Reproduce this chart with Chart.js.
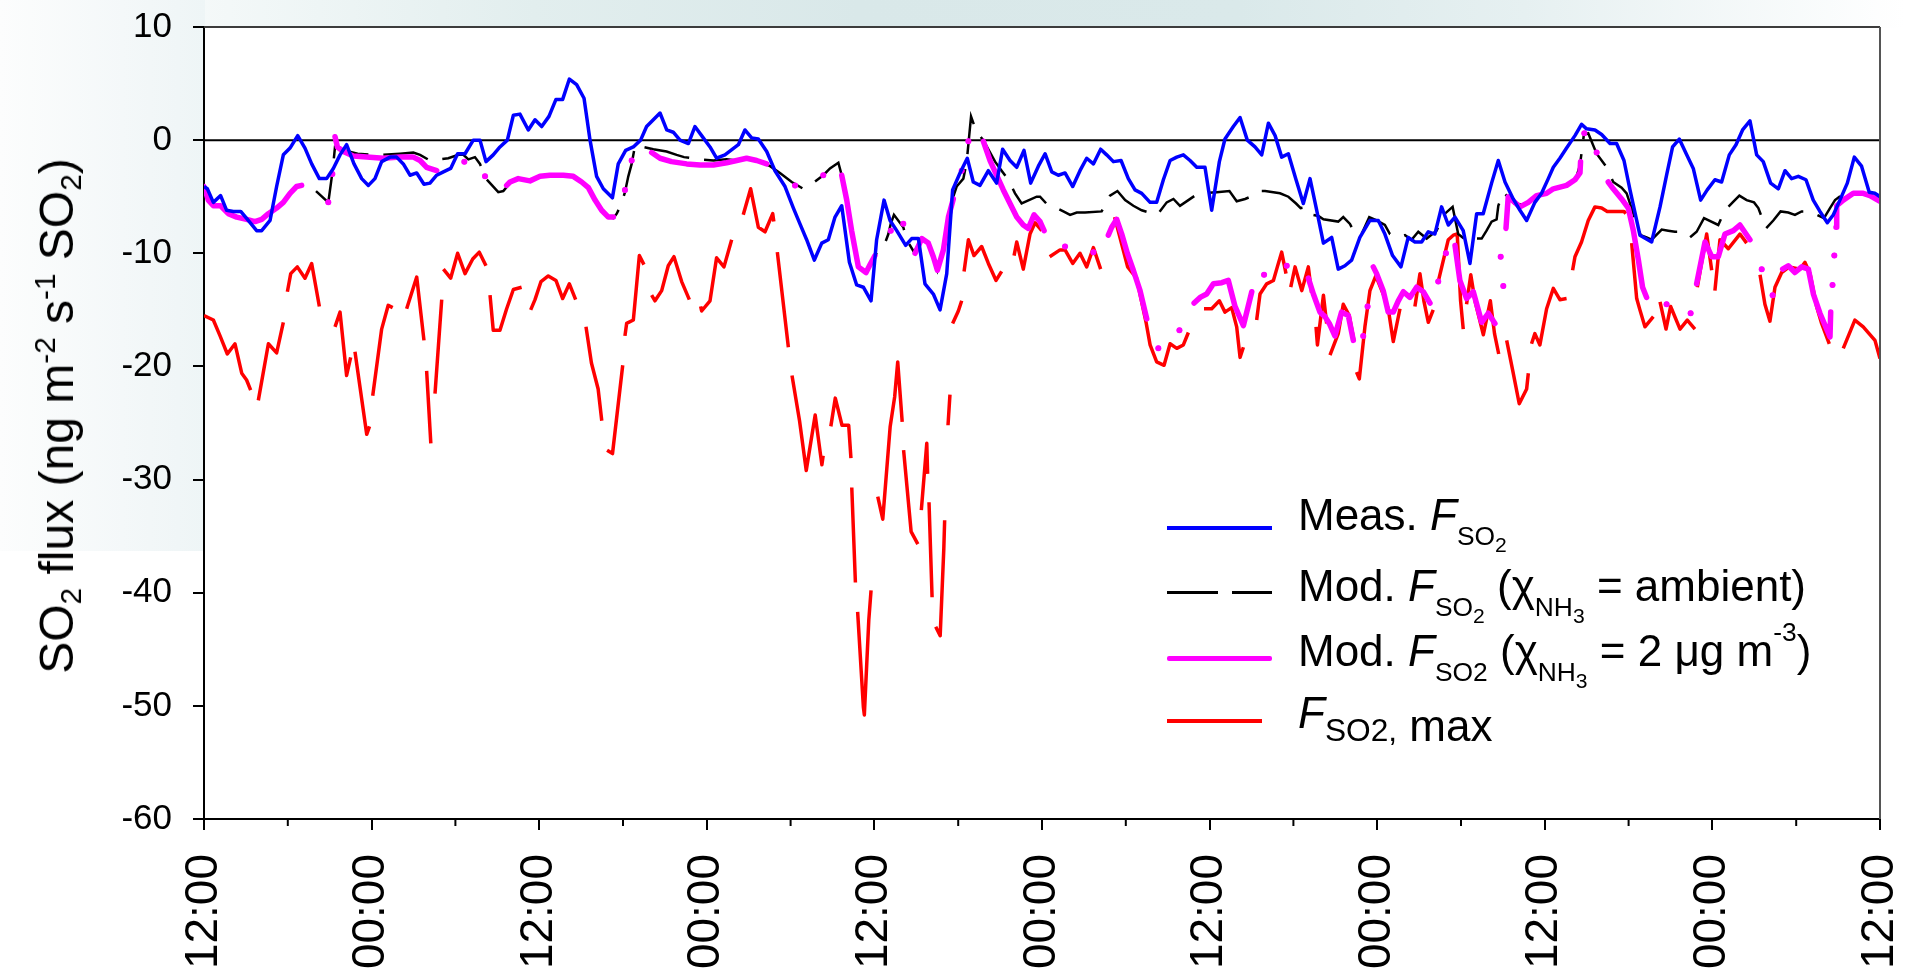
<!DOCTYPE html>
<html>
<head>
<meta charset="utf-8">
<title>SO2 flux time series</title>
<script src="https://cdn.jsdelivr.net/npm/chart.js@4.4.1/dist/chart.umd.min.js"></script>
<style>
  html, body { margin: 0; padding: 0; background: #ffffff; }
  #wrap { position: relative; width: 1905px; height: 968px; overflow: hidden;
          font-family: "Liberation Sans", Arial, Helvetica, sans-serif; color: #000; }
  #bgTop { position: absolute; left: 0; top: 0; width: 1905px; height: 28px;
           background: linear-gradient(to right, #ffffff 0%, #f3f8f8 12%, #e2eeee 28%, #d9e8e9 45%, #dae9ea 65%, #e6f0f1 80%, #ffffff 100%); }
  #bgLeft { position: absolute; left: 0; top: 0; width: 205px; height: 551px;
            background: linear-gradient(to right, #fcfdfd 0%, #f4f8f9 60%, #eef5f6 100%); }
  canvas { position: absolute; left: 0; top: 0; }
  #ytitle { position: absolute; left: 57px; top: 416px; white-space: nowrap;
            font-size: 48px; line-height: 48px;
            transform: translate(-50%, -50%) rotate(-90deg); }
  #ytitle sub { font-size: 0.62em; vertical-align: -0.28em; line-height: 0; }
  #ytitle sup { font-size: 0.62em; vertical-align: 0.62em; line-height: 0; }
  .lrow { position: absolute; left: 1298px; font-size: 44px; line-height: 44px; white-space: nowrap; }
  .lrow i { font-style: italic; }
  .s1 { font-size: 0.6em; vertical-align: -0.55em; line-height: 0; }
  .s2 { font-size: 0.8em; vertical-align: -0.35em; line-height: 0; }
  .up { font-size: 0.6em; vertical-align: 0.95em; line-height: 0; }
  .low { position: relative; top: 13px; }
  .low .sm { font-size: 0.72em; }
  .swatch { position: absolute; }
</style>
</head>
<body>
<div id="wrap">
  <div id="bgTop"></div>
  <div id="bgLeft"></div>
  <canvas id="c" width="1905" height="968"></canvas>

  <div id="ytitle">SO<sub>2</sub> flux (ng m<sup>-2</sup> s<sup>-1</sup> SO<sub>2</sub>)</div>

  <div class="swatch" style="left:1167px;top:526px;width:105px;height:4px;background:#0000ff;"></div>
  <div class="swatch" style="left:1167px;top:591px;width:51px;height:3px;background:#000000;"></div>
  <div class="swatch" style="left:1232px;top:591px;width:40px;height:3px;background:#000000;"></div>
  <div class="swatch" style="left:1167px;top:656px;width:105px;height:5px;background:#ff00ff;border-radius:2px;"></div>
  <div class="swatch" style="left:1167px;top:719px;width:95px;height:4px;background:#ff0000;"></div>

  <div class="lrow" style="top:493px;">Meas. <i>F</i><span class="s1">SO<span class="s2">2</span></span></div>
  <div class="lrow" style="top:564px;">Mod. <i>F</i><span class="s1">SO<span class="s2">2</span></span> (χ<span class="s1">NH<span class="s2">3</span></span> = ambient)</div>
  <div class="lrow" style="top:629px;">Mod. <i>F</i><span class="s1">SO2</span> (χ<span class="s1">NH<span class="s2">3</span></span> = 2 μg m<span class="up">-3</span>)</div>
  <div class="lrow" style="top:691px;"><i>F</i><span class="low"><span class="sm">SO2,</span> max</span></div>
</div>

<script>
// Time axis: hours after the first 12:00 mark (5 days of record).
const hourTicks = [0, 12, 24, 36, 48, 60, 72, 84, 96, 108, 120];
const tickLabels = ['12:00', '00:00', '12:00', '00:00', '12:00', '00:00', '12:00', '00:00', '12:00', '00:00', '12:00'];
const minorHours = [6, 18, 30, 42, 54, 66, 78, 90, 102, 114];

// Each series: [hour, flux] pairs; null marks a break in the record.
const measured = [
  [0,-4.1],[0.24,-4.3],[0.67,-5.5],[1.19,-4.9],[1.62,-6.2],[2.1,-6.3],[2.63,-6.3],[3.17,-7.1],[3.77,-8.0],[4.13,-8.0],
  [4.73,-7.1],[5.2,-4.1],[5.68,-1.3],[6.16,-0.7],[6.71,0.4],[7.23,-0.7],[7.71,-2.1],[8.26,-3.4],[8.78,-3.4],[9.26,-2.5],
  [9.74,-1.3],[10.21,-0.4],[10.74,-2.1],[11.29,-3.4],[11.77,-4.0],[12.24,-3.4],[12.72,-1.9],[13.32,-1.5],[13.79,-1.5],[14.27,-2.1],
  [14.75,-3.1],[15.23,-2.9],[15.75,-3.9],[16.18,-3.8],[16.66,-3.1],[17.14,-2.8],[17.66,-2.5],[18.16,-1.2],[18.69,-1.2],[19.28,0.0],
  [19.76,0.0],[20.19,-1.9],[20.71,-1.3],[21.19,-0.6],[21.72,0.0],[22.15,2.2],[22.62,2.3],[23.22,0.9],[23.7,1.8],[24.18,1.2],
  [24.7,2.1],[25.2,3.6],[25.68,3.6],[26.16,5.4],[26.68,4.9],[27.21,3.7],[27.64,0.0],[28.11,-3.2],[28.59,-4.3],[29.24,-5.1],
  [29.66,-2.1],[30.19,-0.9],[30.74,-0.6],[31.26,0.0],[31.69,1.2],[32.17,1.8],[32.65,2.4],[33.13,0.9],[33.6,0.7],[34.08,0.0],
  [34.68,-0.3],[35.15,1.2],[35.63,0.4],[36.23,-0.6],[36.7,-1.6],[37.3,-1.3],[38.26,-0.4],[38.73,0.9],[39.21,0.2],[39.69,0.1],
  [40.29,-1.0],[40.88,-2.7],[41.6,-4.1],[42.2,-6.0],[42.67,-7.4],[43.15,-8.8],[43.7,-10.6],[44.23,-9.1],[44.7,-8.8],[45.18,-6.8],
  [45.66,-5.8],[46.21,-10.8],[46.73,-12.8],[47.21,-13.0],[47.76,-14.2],[48.16,-8.8],[48.69,-5.3],[49.12,-7.1],[49.6,-8.0],[50.24,-9.3],
  [50.67,-8.7],[51.15,-8.7],[51.62,-12.7],[52.22,-13.6],[52.7,-15.0],[53.18,-11.8],[53.6,-4.4],[54.13,-2.9],[54.65,-1.6],[55.08,-3.7],
  [55.56,-4.0],[56.16,-2.7],[56.75,-3.8],[57.18,-0.8],[57.71,-1.8],[58.19,-2.4],[58.71,-0.9],[59.19,-3.8],[59.74,-2.3],[60.22,-1.2],
  [60.7,-2.8],[61.17,-3.1],[61.65,-2.9],[62.2,-4.1],[62.72,-2.7],[63.2,-1.6],[63.68,-2.1],[64.2,-0.8],[64.63,-1.3],[65.11,-1.9],
  [65.66,-1.8],[66.18,-3.4],[66.66,-4.4],[67.14,-4.7],[67.74,-5.5],[68.21,-5.5],[68.69,-3.5],[69.17,-1.8],[69.65,-1.5],[70.12,-1.3],
  [70.6,-1.8],[71.08,-2.4],[71.67,-2.4],[72.15,-6.2],[72.7,-1.9],[73.1,0.1],[73.7,1.2],[74.18,2.0],[74.7,0.0],[75.25,-0.6],
  [75.73,-1.3],[76.21,1.5],[76.69,0.4],[77.16,-1.5],[77.64,-1.2],[78.19,-3.5],[78.71,-5.6],[79.19,-3.4],[79.67,-6.2],[80.15,-9.1],
  [80.74,-8.6],[81.21,-11.4],[81.69,-11.1],[82.17,-10.6],[82.76,-8.6],[83.48,-7.1],[84.08,-7.1],[84.55,-8.3],[85.1,-10.2],[85.7,-11.2],
  [86.22,-8.6],[86.7,-9.0],[87.18,-9.0],[87.66,-8.1],[88.13,-8.3],[88.61,-5.9],[89.09,-7.5],[89.57,-6.8],[90.16,-8.0],[90.64,-10.9],
  [91.12,-6.5],[91.59,-6.5],[92.19,-3.8],[92.67,-1.8],[93.15,-3.7],[93.74,-5.2],[94.22,-6.2],[94.7,-7.1],[95.29,-5.5],[95.77,-4.7],
  [96.25,-3.4],[96.61,-2.4],[97.08,-1.6],[97.56,-0.7],[98.16,0.4],[98.63,1.4],[98.99,1.0],[99.59,0.9],[100.07,0.5],[100.67,-0.3],
  [101.14,-0.3],[101.67,-1.8],[102.1,-4.4],[102.81,-8.4],[103.65,-9.0],[104.25,-5.9],[104.72,-3.1],[105.15,-0.6],[105.63,0.1],[106.16,-1.3],
  [106.63,-2.5],[107.16,-5.3],[107.63,-4.4],[108.18,-3.5],[108.66,-3.7],[109.21,-1.3],[109.69,-0.4],[110.16,0.9],[110.69,1.7],[111.17,-1.3],
  [111.64,-1.9],[112.17,-3.8],[112.72,-4.3],[113.2,-2.7],[113.67,-3.4],[114.15,-3.2],[114.7,-3.5],[115.22,-5.3],[115.7,-6.3],[116.23,-7.3],
  [116.66,-6.6],[117.13,-5.3],[117.66,-3.8],[118.16,-1.5],[118.68,-2.3],[119.23,-4.6],[119.63,-4.7],[120,-5.0]
];

const modelAmbient = [
  [8.02,-4.5],[8.9,-5.5],[9.21,-2.7],[9.38,-0.6],[10.0,-0.9],[11.0,-1.2],[12.0,-1.3],[12.84,-1.3],[14.03,-1.2],[14.99,-1.1],
  [15.47,-1.3],[16.18,-1.8],[17.49,-1.6],[18.21,-1.3],[18.57,-1.3],[18.93,-1.7],[19.4,-1.5],[19.76,-2.1],[20.19,-3.4],[21.07,-4.6],
  [21.43,-4.5],[21.9,-3.8],[22.5,-3.4],[23.34,-3.6],[24.06,-3.2],[24.77,-3.1],[25.73,-3.1],[26.44,-3.2],[27.04,-3.7],[27.52,-4.2],
  [28.0,-5.3],[28.47,-6.2],[28.95,-6.8],[29.31,-6.9],[29.55,-6.5],[29.9,-5.6],[30.14,-4.6],[30.38,-3.2],[30.62,-2.1],[30.86,-0.5],
  [31.45,-0.6],[32.17,-0.8],[33.12,-1.0],[33.84,-1.3],[34.37,-1.5],[35.51,-1.7],[36.47,-1.8],[37.42,-1.7],[38.14,-1.8],[38.85,-1.6],
  [39.57,-1.8],[40.0,-2.0],[40.53,-2.3],[41.24,-2.9],[42.08,-3.7],[42.91,-4.3],[43.39,-4.0],[44.34,-3.1],[44.82,-2.5],[45.42,-2.0],
  [45.66,-3.1],[46.02,-5.3],[46.37,-8.0],[46.85,-11.2],[47.4,-11.7],[47.73,-10.9],[48.04,-10.2],[48.76,-9.1],[49.0,-8.3],[49.17,-7.4],
  [49.4,-6.6],[50.07,-7.7],[50.31,-8.8],[50.84,-9.9],[51.39,-8.7],[51.86,-9.1],[52.22,-10.3],[52.51,-11.5],[52.94,-9.7],[53.3,-6.8],
  [53.65,-5.0],[53.89,-4.1],[54.37,-3.4],[54.61,-1.9],[54.92,2.1],[55.32,0.7],[55.8,0.0],[56.64,-1.9],[57.11,-2.7],[57.59,-3.5],
  [58.07,-4.7],[58.54,-5.6],[59.62,-5.0],[59.86,-5.0],[60.46,-5.8],[61.05,-6.0],[61.53,-6.3],[62.01,-6.6],[62.49,-6.4],[63.08,-6.4],
  [64.27,-6.3],[64.87,-4.9],[65.4,-4.5],[65.95,-5.3],[66.54,-5.8],[67.14,-6.2],[68.26,-6.6],[68.93,-5.5],[69.41,-5.2],[69.88,-5.8],
  [70.48,-5.3],[71.08,-4.8],[71.43,-4.7],[72.51,-4.6],[73.42,-4.5],[73.94,-5.4],[74.54,-5.2],[75.13,-4.9],[75.56,-4.5],[75.97,-4.5],
  [77.04,-4.7],[77.64,-5.0],[78.19,-5.6],[78.52,-6.0],[78.95,-5.9],[79.38,-6.6],[79.79,-6.7],[80.15,-7.0],[81.21,-7.2],[81.57,-6.8],
  [82.05,-7.4],[82.41,-8.3],[82.88,-8.3],[83.43,-6.8],[83.96,-7.1],[84.55,-7.5],[84.91,-8.3],[85.51,-8.6],[85.99,-8.4],[86.46,-8.8],
  [86.94,-8.1],[87.54,-8.7],[88.25,-8.0],[88.85,-6.5],[89.4,-5.9],[89.8,-8.3],[90.52,-9.0],[91.0,-8.7],[91.48,-8.7],[91.83,-8.0],
  [92.19,-7.2],[92.55,-7.0],[92.67,-5.8],[93.03,-4.6],[93.27,-4.9],[93.8,-5.6],[94.5,-5.7],[95.4,-4.9],[96.1,-4.7],[96.6,-4.3],
  [97.5,-4.0],[98.2,-3.5],[98.52,-2.2],[98.8,0.5],[99.11,0.6],[99.71,-1.2],[100.43,-2.4],[100.9,-3.7],[101.5,-4.2],[101.86,-4.7],
  [102.34,-6.5],[102.86,-8.4],[103.29,-8.6],[103.65,-8.8],[104.37,-7.9],[104.84,-8.0],[105.32,-8.1],[105.87,-8.1],[106.39,-8.6],[106.87,-8.1],
  [107.4,-6.9],[108.42,-7.5],[108.9,-6.2],[109.45,-5.5],[109.93,-4.9],[110.45,-5.3],[110.98,-5.5],[111.29,-6.0],[111.84,-7.8],[112.36,-7.1],
  [112.88,-6.3],[113.43,-6.4],[113.91,-6.6],[114.39,-6.3],[114.99,-6.3],[115.99,-6.9],[116.42,-6.0],[116.78,-5.3],[117.09,-5.0],[117.4,-5.3],
  [118.1,-4.7],[118.8,-4.7],[119.3,-4.9],[120,-5.4]
];

const modelNh3Fixed = [
  [0,-4.1],[0.31,-5.3],[0.67,-5.8],[1.19,-5.8],[1.74,-6.5],[2.34,-6.8],[3.05,-7.0],[3.65,-7.2],[4.13,-7.0],[4.61,-6.5],
  [5.2,-6.0],[5.68,-5.5],[6.16,-4.7],[6.63,-4.1],[6.99,-4.0], null,
  [8.9,-5.5], null, [9.19,-3.0], null,
  [9.38,0.3],[9.55,-0.6],[9.98,-1.0],[10.69,-1.4],[11.65,-1.5],[12.84,-1.6],[14.03,-1.5],[14.99,-1.5],[15.47,-1.8],[15.94,-2.4],[16.66,-2.7], null,
  [18.64,-1.9], null, [20.12,-3.2], null,
  [21.67,-4.0],[21.91,-3.7],[22.5,-3.4],[23.34,-3.6],[24.06,-3.2],[24.77,-3.1],[25.73,-3.1],[26.44,-3.2],[27.04,-3.7],[27.52,-4.2],
  [28.0,-5.3],[28.47,-6.2],[28.95,-6.8],[29.31,-6.8], null,
  [30.14,-4.4], null, [30.62,-1.8], null,
  [32.05,-1.1],[32.65,-1.6],[33.48,-1.9],[34.56,-2.1],[35.51,-2.2],[36.47,-2.2],[37.42,-2.0],[38.14,-1.8],[38.85,-1.6],[39.57,-1.8],[40.29,-2.1], null,
  [42.32,-4.0], null, [44.34,-3.1], null,
  [45.66,-3.1],[46.02,-5.3],[46.37,-8.0],[46.85,-11.2],[47.4,-11.7],[47.73,-10.9],[48.04,-10.2], null,
  [49.17,-8.0], null, [50.07,-7.4], null,
  [50.91,-10.0],[51.39,-8.7],[51.86,-9.1],[52.22,-10.3],[52.51,-11.5],[52.94,-9.7],[53.3,-6.8],[53.65,-5.2], null,
  [54.25,-2.7], null, [54.73,-0.1], null,
  [55.8,-0.1],[56.28,-1.8],[56.75,-3.1],[57.23,-4.4],[57.71,-5.6],[58.19,-6.8],[58.66,-7.5],[59.02,-7.8],[59.43,-6.6],[59.86,-7.2],[60.15,-8.0], null,
  [61.65,-9.4], null, [63.68,-9.9], null,
  [64.75,-8.4],[64.99,-7.7],[65.35,-7.0],[65.71,-8.3],[66.11,-10.0],[66.54,-11.5],[67.02,-13.3],[67.5,-15.8], null,
  [68.33,-18.4], null, [69.84,-16.8], null,
  [70.89,-14.4],[71.32,-13.9],[71.79,-13.6],[72.27,-12.7],[72.87,-12.6],[73.34,-12.4],[73.82,-14.7],[74.42,-16.4],[75.02,-13.4], null,
  [75.9,-11.9], null, [77.52,-11.1], null,
  [79.07,-12.2],[79.43,-13.6],[79.9,-15.2],[80.26,-15.6],[80.57,-16.2],[80.97,-17.3],[81.45,-15.2],[81.93,-15.5],[82.29,-17.7], null,
  [83.0,-17.3], null, [83.31,-14.7], null,
  [83.72,-11.2],[83.96,-11.8],[84.43,-13.3],[84.79,-15.2],[85.15,-15.2],[85.51,-14.2],[85.87,-13.4],[86.34,-13.9],[86.82,-13.0],[87.3,-13.4],[87.78,-14.4], null,
  [88.37,-12.5], null, [88.92,-10.0], null,
  [89.57,-9.3],[89.92,-12.4],[90.4,-14.0],[90.88,-13.4],[91.48,-16.1],[91.95,-15.3],[92.43,-16.2], null,
  [92.84,-10.3], null, [93.03,-12.9], null,
  [93.22,-7.8],[93.38,-5.0],[94.22,-5.9],[94.82,-5.5],[95.41,-4.9],[96.13,-4.7],[96.61,-4.3],[97.56,-4.0],[98.16,-3.5],[98.52,-2.9],[98.56,-1.9], null,
  [98.83,0.6], null, [99.71,-1.1], null,
  [100.54,-3.7],[100.9,-4.3],[101.5,-5.2],[101.98,-6.0],[102.34,-8.0],[102.7,-10.6],[103.0,-13.0],[103.29,-13.9], null,
  [104.72,-14.5], null, [106.44,-15.3], null,
  [106.87,-12.7],[107.47,-9.0],[107.95,-10.3],[108.42,-10.3],[108.9,-8.3],[109.5,-8.0],[109.97,-7.5],[110.69,-8.8], null,
  [111.53,-11.4], null, [112.31,-13.7], null,
  [113.03,-11.4],[113.43,-11.1],[113.91,-11.7],[114.39,-11.2],[114.87,-11.4],[115.23,-13.6],[115.7,-15.3],[116.42,-17.4],[116.47,-15.2], null,
  [116.6,-12.8], null, [116.73,-10.2], null,
  [116.85,-7.7],[116.9,-5.8],[117.37,-5.3],[118.09,-4.7],[118.8,-4.7],[119.28,-4.9],[120,-5.4]
];

const fluxMax = [
  [0,-15.5],[0.67,-15.9],[1.15,-17.3],[1.67,-18.9],[2.22,-18.0],[2.7,-20.6],[3.05,-21.2],[3.34,-22.1], null,
  [3.89,-23.0],[4.61,-18.0],[5.2,-18.8],[5.68,-16.1], null,
  [5.97,-13.4],[6.21,-11.8],[6.68,-11.2],[7.23,-12.2],[7.71,-10.9],[8.26,-14.7], null,
  [9.38,-16.5],[9.74,-15.2],[10.21,-20.8],[10.5,-19.2], null,
  [10.81,-18.7],[11.65,-26.0],[11.85,-25.3], null,
  [12.08,-22.6],[12.72,-16.7],[13.19,-14.6],[13.51,-14.8], null,
  [14.51,-14.9],[15.23,-12.1],[15.75,-17.7], null,
  [15.94,-20.4],[16.24,-26.8], null,
  [16.54,-22.4],[17.02,-14.1], null,
  [17.14,-11.4],[17.66,-12.2],[18.16,-10.0],[18.69,-11.8],[19.24,-10.5],[19.71,-9.9],[20.19,-11.1], null,
  [20.48,-13.7],[20.71,-16.8],[21.19,-16.8],[21.67,-14.9],[22.15,-13.2],[22.74,-13.0], null,
  [23.39,-15.0],[23.7,-14.1],[24.13,-12.5],[24.65,-12.0],[25.2,-12.4],[25.68,-14.0],[26.16,-12.7],[26.61,-14.1], null,
  [27.35,-16.5],[27.74,-19.7],[28.22,-22.0],[28.48,-24.8], null,
  [28.86,-27.4],[29.25,-27.7],[29.98,-19.9], null,
  [30.14,-17.3],[30.26,-16.2],[30.74,-15.9],[31.17,-10.2],[31.5,-11.0], null,
  [32.05,-13.7],[32.29,-14.2],[32.77,-13.3],[33.24,-11.1],[33.65,-10.3],[34.2,-12.5],[34.75,-14.1], null,
  [35.56,-14.7],[35.63,-15.1],[36.23,-14.2],[36.7,-10.4],[37.23,-11.2],[37.78,-8.8], null,
  [38.61,-6.6],[39.14,-4.3],[39.69,-7.7],[40.17,-8.1],[40.72,-6.5],[40.8,-7.2], null,
  [41.05,-9.9],[41.84,-18.3], null,
  [42.1,-20.8],[42.64,-24.8],[43.12,-29.2],[43.76,-24.3],[44.24,-28.7],[44.33,-27.9], null,
  [44.88,-25.3],[45.2,-22.8],[45.68,-25.2],[46.16,-25.2],[46.32,-28.1], null,
  [46.38,-30.7],[46.64,-39.1], null,
  [46.8,-41.7],[47.21,-50.1],[47.28,-50.8],[47.6,-42.4],[47.76,-39.8], null,
  [48.24,-31.5],[48.6,-33.5],[49.13,-25.3],[49.45,-22.7],[49.67,-19.6],[49.99,-24.9], null,
  [50.09,-27.4],[50.63,-34.6],[51.11,-35.7], null,
  [51.36,-32.7],[51.75,-26.8],[51.81,-29.5], null,
  [51.91,-32.0],[52.13,-40.4], null,
  [52.39,-43.0],[52.71,-43.8],[52.97,-36.1],[53.03,-33.6], null,
  [53.27,-25.2],[53.41,-22.5], null,
  [53.6,-16.2],[54.01,-15.1],[54.25,-14.2], null,
  [54.42,-11.6],[54.73,-8.8],[55.13,-10.2],[55.68,-9.4],[56.16,-10.9],[56.71,-12.4],[57.11,-11.6], null,
  [58.0,-10.2],[58.19,-9.0],[58.66,-11.4],[59.14,-8.3],[59.5,-7.3],[59.98,-8.0], null,
  [60.55,-10.3],[61.29,-9.7],[61.65,-9.7],[62.2,-10.9],[62.72,-10.0],[63.2,-11.2],[63.68,-9.5],[64.2,-11.4], null,
  [65.2,-6.8],[66.13,-11.2],[66.77,-12.2],[67.45,-16.1],[67.74,-18.1],[68.21,-19.6],[68.74,-19.9],[69.17,-18.0],[69.65,-18.4],[70.12,-18.1],[70.48,-17.0], null,
  [71.6,-14.9],[72.15,-14.9],[72.7,-14.2],[73.1,-15.2],[73.58,-14.8],[73.94,-16.5],[74.18,-19.2],[74.42,-18.3], null,
  [75.37,-15.9],[75.61,-13.6],[76.09,-12.7],[76.57,-12.4],[76.85,-11.2],[77.16,-9.9],[77.47,-11.8], null,
  [77.81,-13.0],[78.12,-11.2],[78.6,-13.3],[79.07,-11.2],[79.3,-13.5], null,
  [79.62,-16.5],[79.72,-18.1],[80.15,-13.7],[80.38,-16.2], null,
  [80.62,-19.0],[81.21,-17.1],[81.57,-14.5],[82.0,-15.5],[82.33,-17.7], null,
  [82.52,-20.5],[82.72,-21.1],[83.12,-16.5],[83.48,-13.3],[83.9,-12.0],[84.43,-13.6],[84.79,-14.9],[85.15,-17.8],[85.63,-14.9], null,
  [86.7,-14.7],[87.06,-11.8],[87.34,-14.2],[87.66,-16.1],[88.01,-15.0], null,
  [88.37,-12.5],[89.09,-8.8],[89.45,-8.4],[89.73,-8.3],[89.97,-14.2],[90.16,-16.7], null,
  [90.4,-14.5],[90.7,-11.9],[91.0,-14.2],[91.6,-17.2],[92.1,-14.2],[92.4,-17.1],[92.7,-18.9], null,
  [93.27,-17.7],[93.74,-20.6],[94.17,-23.3],[94.7,-22.0],[94.82,-20.6], null,
  [95.05,-18.0],[95.29,-17.1],[95.65,-18.1],[96.13,-14.9],[96.61,-13.1],[97.08,-14.1],[97.56,-14.0], null,
  [97.99,-11.5],[98.16,-10.3],[98.63,-9.0],[99.11,-7.1],[99.59,-5.9],[100.07,-6.0],[100.47,-6.3],[101.14,-6.3],[101.67,-6.3],[101.8,-6.5], null,
  [102.22,-9.1],[102.58,-14.0],[102.81,-15.0],[103.17,-16.5],[103.77,-15.6], null,
  [104.25,-14.3],[104.68,-16.7],[105.01,-14.7],[105.68,-16.7],[106.2,-15.9],[106.75,-16.7], null,
  [106.92,-13.0],[107.59,-8.3],[107.95,-11.5], null,
  [108.18,-13.3],[108.54,-8.8],[109.14,-9.6],[109.97,-8.3],[110.45,-9.1], null,
  [111.41,-11.9],[111.76,-14.5],[112.12,-16.0],[112.48,-13.0],[112.96,-11.7],[113.5,-11.2],[114.27,-11.4],[114.63,-10.8],[114.99,-11.8],[115.46,-14.7],[115.82,-16.2],[116.37,-18.0], null,
  [117.37,-18.4],[118.2,-15.9],[118.8,-16.5],[119.64,-17.7],[120,-19.3]
];

const yTicks = [-60, -50, -40, -30, -20, -10, 0, 10];

// Turn [hour, value] pairs into Chart.js points; a null becomes a gap.
function toPoints(series) {
  const out = [];
  let lastX = 0;
  series.forEach(p => {
    if (p === null) { out.push({ x: lastX, y: null }); }
    else { out.push({ x: p[0], y: p[1] }); lastX = p[0]; }
  });
  return out;
}

// A value with no neighbour on either side is drawn as a dot.
function isolatedRadius(r) {
  return ctx => {
    const d = ctx.dataset.data, i = ctx.dataIndex;
    const prev = d[i - 1], next = d[i + 1];
    const alone = (!prev || prev.y === null) && (!next || next.y === null);
    return alone ? r : 0;
  };
}

const FONT = '"Liberation Sans", Arial, Helvetica, sans-serif';

const decorations = {
  id: 'decorations',
  beforeDraw(chart) {
    const { ctx, chartArea: a } = chart;
    ctx.save();
    ctx.fillStyle = '#ffffff';
    ctx.fillRect(a.left, a.top, a.right - a.left, a.bottom - a.top);
    ctx.restore();
  },
  beforeDatasetsDraw(chart) {
    const { ctx, chartArea: a, scales } = chart;
    const y0 = scales.y.getPixelForValue(0);
    ctx.save();
    ctx.strokeStyle = '#000000';
    ctx.lineWidth = 2;
    ctx.beginPath();
    ctx.moveTo(a.left, y0);
    ctx.lineTo(a.right, y0);
    ctx.stroke();
    ctx.restore();
  },
  afterDraw(chart) {
    const { ctx, chartArea: a, scales } = chart;
    ctx.save();
    // frame: top and right edges of the plot
    ctx.strokeStyle = '#3c3c3c';
    ctx.lineWidth = 2;
    ctx.beginPath();
    ctx.moveTo(a.left, a.top);
    ctx.lineTo(a.right, a.top);
    ctx.stroke();
    ctx.strokeStyle = '#555555';
    ctx.beginPath();
    ctx.moveTo(a.right, a.top);
    ctx.lineTo(a.right, a.bottom);
    ctx.stroke();
    // short minor ticks at 06:00 and 18:00
    ctx.strokeStyle = '#000000';
    ctx.lineWidth = 2;
    minorHours.forEach(h => {
      const px = scales.x.getPixelForValue(h);
      ctx.beginPath();
      ctx.moveTo(px, a.bottom);
      ctx.lineTo(px, a.bottom + 7);
      ctx.stroke();
    });
    ctx.restore();
  }
};

new Chart(document.getElementById('c'), {
  type: 'line',
  data: {
    datasets: [
      {
        label: 'Meas. F SO2',
        data: toPoints(measured),
        borderColor: '#0000ff',
        borderWidth: 3.5,
        borderJoinStyle: 'round',
        pointRadius: 0,
        order: 0
      },
      {
        label: 'Mod. F SO2 (NH3 = ambient)',
        data: toPoints(modelAmbient),
        borderColor: '#000000',
        borderWidth: 2.5,
        borderDash: [46, 15],
        pointRadius: 0,
        order: 2
      },
      {
        label: 'Mod. F SO2 (NH3 = 2 ug m-3)',
        data: toPoints(modelNh3Fixed),
        borderColor: '#ff00ff',
        backgroundColor: '#ff00ff',
        borderWidth: 5.5,
        borderCapStyle: 'round',
        borderJoinStyle: 'round',
        pointRadius: isolatedRadius(3),
        pointBackgroundColor: '#ff00ff',
        pointBorderWidth: 0,
        order: 1
      },
      {
        label: 'F SO2, max',
        data: toPoints(fluxMax),
        borderColor: '#ff0000',
        borderWidth: 3.5,
        borderJoinStyle: 'round',
        pointRadius: 0,
        order: 3
      }
    ]
  },
  options: {
    responsive: false,
    animation: false,
    devicePixelRatio: 1,
    spanGaps: false,
    events: [],
    elements: { line: { tension: 0, fill: false } },
    layout: { padding: { top: 27, right: 25, left: 0, bottom: 0 } },
    plugins: { legend: { display: false }, tooltip: { enabled: false }, title: { display: false } },
    scales: {
      x: {
        type: 'linear',
        min: hourTicks[0],
        max: hourTicks[hourTicks.length - 1],
        afterBuildTicks: s => { s.ticks = hourTicks.map(v => ({ value: v })); },
        afterFit: s => { s.height = 149; s.paddingLeft = 0; s.paddingRight = 0; },
        ticks: {
          autoSkip: false,
          minRotation: 90,
          maxRotation: 90,
          padding: 24,
          color: '#000000',
          font: { family: FONT, size: 46 },
          callback: (v) => tickLabels[hourTicks.indexOf(v)]
        },
        grid: { display: true, drawOnChartArea: false, drawTicks: true, tickLength: 11, color: '#000000', lineWidth: 2 },
        border: { display: true, color: '#000000', width: 2 }
      },
      y: {
        min: yTicks[0],
        max: yTicks[yTicks.length - 1],
        afterBuildTicks: s => { s.ticks = yTicks.map(v => ({ value: v })); },
        afterFit: s => { s.width = 204; s.paddingTop = 0; s.paddingBottom = 0; },
        ticks: {
          padding: 21,
          color: '#000000',
          font: { family: FONT, size: 35 }
        },
        grid: { display: true, drawOnChartArea: false, drawTicks: true, tickLength: 11, color: '#000000', lineWidth: 2 },
        border: { display: true, color: '#000000', width: 2 }
      }
    }
  },
  plugins: [decorations]
});
</script>
</body>
</html>
